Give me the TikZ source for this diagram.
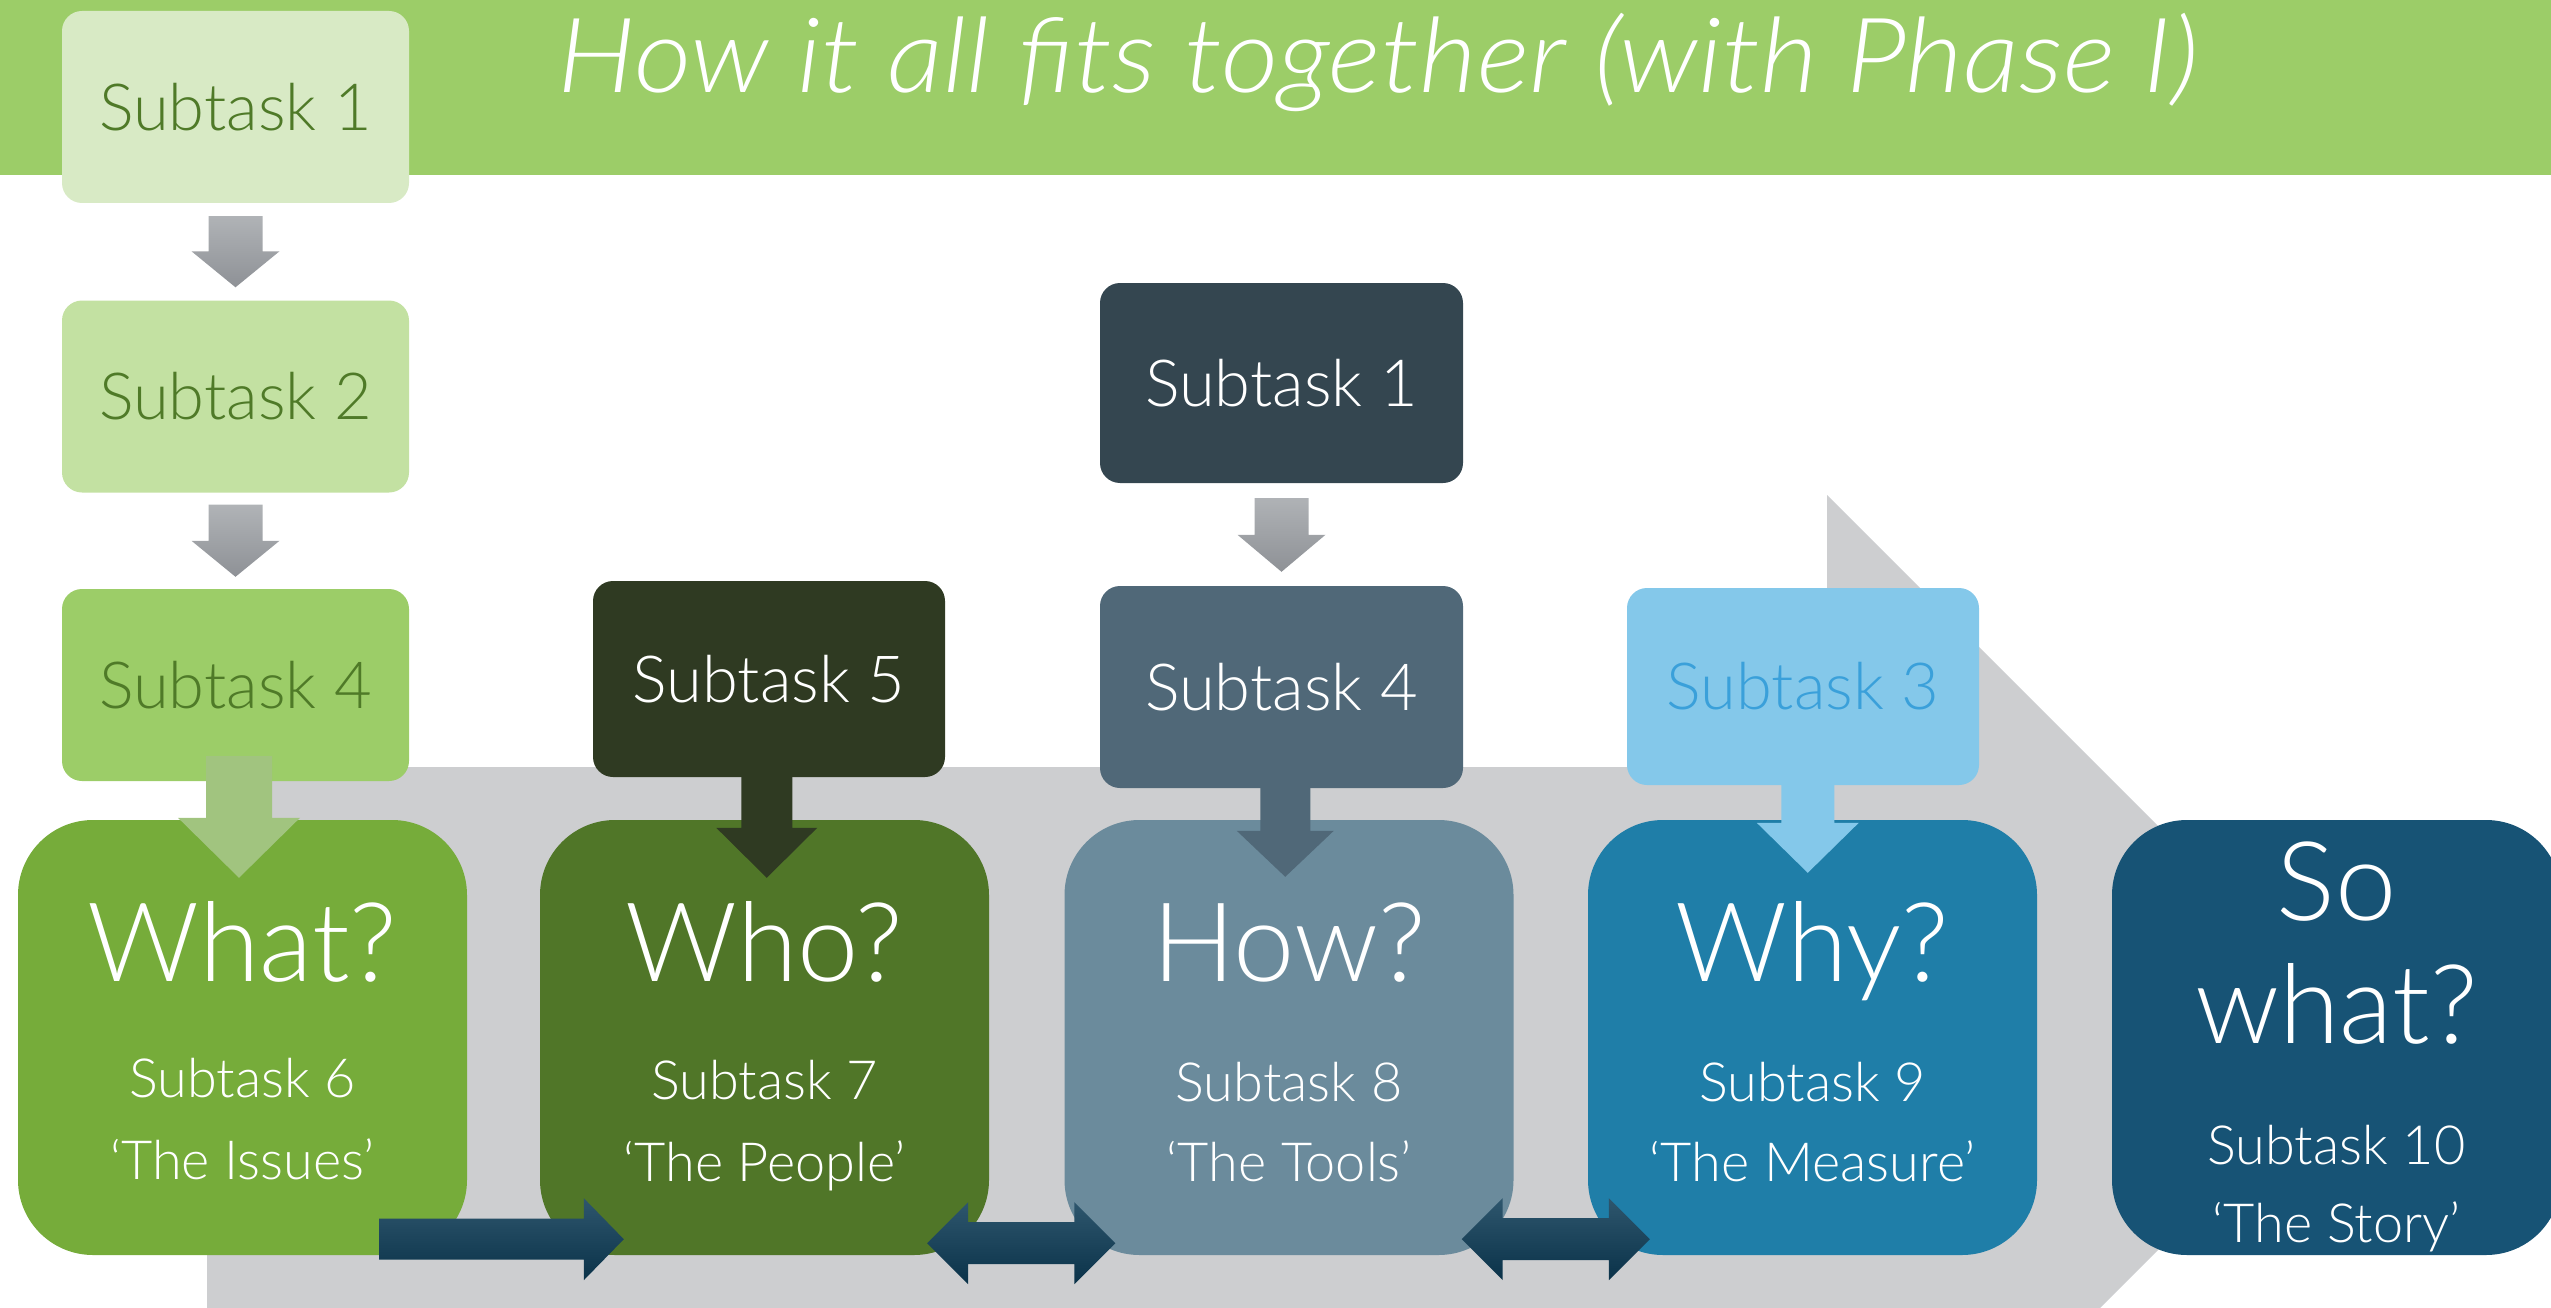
\documentclass[tikz,border=0pt]{standalone}
\usepackage{fontspec}
\IfFontExistsTF{Lato Light}{%
  \setmainfont{Lato Light}[ItalicFont={Lato Light Italic}]}{%
  \setmainfont{Liberation Sans}}
\usetikzlibrary{calc}

\definecolor{headgreen}{HTML}{9CCD68}
\definecolor{pale}{HTML}{D8EAC5}
\definecolor{light}{HTML}{C3E1A2}
\definecolor{leaf}{HTML}{4F7A28}
\definecolor{whatgreen}{HTML}{76AC3A}
\definecolor{whogreen}{HTML}{507628}
\definecolor{olive}{HTML}{2F3A22}
\definecolor{slatedark}{HTML}{344650}
\definecolor{slate}{HTML}{506878}
\definecolor{howblue}{HTML}{6B8B9C}
\definecolor{skyblue}{HTML}{84C8EA}
\definecolor{skytext}{HTML}{3AA0DA}
\definecolor{whyblue}{HTML}{1F7EA8}
\definecolor{navy}{HTML}{175375}
\definecolor{backgray}{HTML}{CDCED0}
\definecolor{graytop}{HTML}{B6B9BC}
\definecolor{graybot}{HTML}{8E9196}
\definecolor{inktop}{HTML}{2E566D}
\definecolor{inkbot}{HTML}{0A3249}
\definecolor{fadegreen}{HTML}{A1C47F}

\tikzset{
  topbox/.style={rectangle, rounded corners=20pt, minimum width=347pt,
    minimum height=192pt, inner sep=0pt, font=\fontsize{65}{78}\selectfont},
  bigbox/.style={rectangle, rounded corners=75pt, minimum width=449pt,
    minimum height=435pt, inner sep=0pt},
  bigword/.style={anchor=base, inner sep=0pt, text=white, font=\fontsize{110}{130}\selectfont},
  smallword/.style={anchor=base, inner sep=0pt, text=white, font=\fontsize{54}{65}\selectfont},
  % fat arrow downwards: shaft half width, head half width, head length, into source, into target
  fat down/.style n args={5}{to path={
    let \p1=(\tikztostart), \p2=(\tikztotarget), \p3=($(\p1)!.5!(\p2)$) in
    ({\x3-#1},{\y1+(#4)}) -- ({\x3+#1},{\y1+(#4)}) -- ({\x3+#1},{\y2-(#5)+#3})
    -- ({\x3+#2},{\y2-(#5)+#3}) -- ({\x3},{\y2-(#5)}) -- ({\x3-#2},{\y2-(#5)+#3})
    -- ({\x3-#1},{\y2-(#5)+#3}) -- cycle}},
  fat right/.style n args={5}{to path={
    let \p1=(\tikztostart), \p2=(\tikztotarget) in
    ({\x1-(#4)},{\y1-#1}) -- ({\x2+(#5)-#3},{\y1-#1}) -- ({\x2+(#5)-#3},{\y1-#2})
    -- ({\x2+(#5)},{\y1}) -- ({\x2+(#5)-#3},{\y1+#2}) -- ({\x2+(#5)-#3},{\y1+#1})
    -- ({\x1-(#4)},{\y1+#1}) -- cycle}},
  fat both/.style n args={5}{to path={
    let \p1=(\tikztostart), \p2=(\tikztotarget) in
    ({\x1-(#4)},{\y1}) -- ({\x1-(#4)+#3},{\y1+#2}) -- ({\x1-(#4)+#3},{\y1+#1})
    -- ({\x2+(#5)-#3},{\y1+#1}) -- ({\x2+(#5)-#3},{\y1+#2}) -- ({\x2+(#5)},{\y1})
    -- ({\x2+(#5)-#3},{\y1-#2}) -- ({\x2+(#5)-#3},{\y1-#1}) -- ({\x1-(#4)+#3},{\y1-#1})
    -- ({\x1-(#4)+#3},{\y1-#2}) -- cycle}},
}

\begin{document}
\begin{tikzpicture}[x=1pt, y=-1pt]
  \useasboundingbox (0,0) rectangle (2551,1308);
  \clip (0,0) rectangle (2551,1308);

  % title band
  \fill[headgreen] (0,0) rectangle (2551,175);
  \node[anchor=base, inner sep=0pt, xscale=1.075, text=white,
    font=\fontsize{104}{125}\selectfont\itshape]
    (title) at (1378,93) {How it all fits together (with Phase I)};

  % big grey arrow behind
  \fill[backgray] (207,767) -- (1827,767) -- (1827,495) -- (2370,1038)
    -- (1827,1581) -- (1827,1309) -- (207,1309) -- cycle;

  % questions
  \node[bigbox, fill=whatgreen] (what) at (242.5,1037.5) {};
  \node[bigbox, fill=whogreen] (who) at (764.5,1037.5) {};
  \node[bigbox, fill=howblue] (how) at (1289,1037.5) {};
  \node[bigbox, fill=whyblue] (why) at (1812.5,1037.5) {};
  \node[bigbox, fill=navy] (sowhat) at (2336.5,1037.5) {};

  \node[bigword] (what-w) at ($(what.north)+(0,162)$) {What?};
  \node[smallword] (what-s) at ($(what.north)+(0,278)$) {Subtask 6};
  \node[smallword] (what-q) at ($(what.north)+(0,360)$) {‘The Issues’};
  \node[bigword] (who-w) at ($(who.north)+(0,162)$) {Who?};
  \node[smallword] (who-s) at ($(who.north)+(0,280)$) {Subtask 7};
  \node[smallword] (who-q) at ($(who.north)+(0,362)$) {‘The People’};
  \node[bigword] (how-w) at ($(how.north)+(0,162)$) {How?};
  \node[smallword] (how-s) at ($(how.north)+(0,282)$) {Subtask 8};
  \node[smallword] (how-q) at ($(how.north)+(0,362)$) {‘The Tools’};
  \node[bigword] (why-w) at ($(why.north)+(0,162)$) {Why?};
  \node[smallword] (why-s) at ($(why.north)+(0,282)$) {Subtask 9};
  \node[smallword] (why-q) at ($(why.north)+(0,362)$) {‘The Measure’};
  \node[bigword] (sowhat-a) at ($(sowhat.north)+(0,101)$) {So};
  \node[bigword] (sowhat-b) at ($(sowhat.north)+(0,224)$) {what?};
  \node[smallword] (sowhat-s) at ($(sowhat.north)+(0,345)$) {Subtask 10};
  \node[smallword] (sowhat-q) at ($(sowhat.north)+(0,423)$) {‘The Story’};

  % subtasks
  \node[topbox, fill=pale, text=leaf] (s1) at (235.5,107) {Subtask 1};
  \node[topbox, fill=light, text=leaf] (s2) at (235.5,396.5) {Subtask 2};
  \node[topbox, fill=headgreen, text=leaf] (s4) at (235.5,685) {Subtask 4};
  \node[topbox, fill=olive, text=white, minimum width=352pt, minimum height=196pt]
    (s5) at (769,679) {Subtask 5};
  \node[topbox, fill=slatedark, text=white, minimum width=363pt, minimum height=200pt]
    (t1) at (1281.5,383) {Subtask 1};
  \node[topbox, fill=slate, text=white, minimum width=363pt, minimum height=202pt]
    (t4) at (1281.5,687) {Subtask 4};
  \node[topbox, fill=skyblue, text=skytext, minimum width=352pt, minimum height=197pt]
    (s3) at (1803,686.5) {Subtask 3};

  % arrows
  \shade[top color=graytop, bottom color=graybot, fat down={27}{44}{36}{-13}{-13}] (s1.south) to (s2.north);
  \shade[top color=graytop, bottom color=graybot, fat down={27}{44}{36}{-12}{-12}] (s2.south) to (s4.north);
  \shade[top color=graytop, bottom color=graybot, fat down={27}{44}{37}{-15}{-14}] (t1.south) to (t4.north);
  \fill[fadegreen, fat down={33}{61}{60}{25}{58}] (s4.south) to (what.north);
  \fill[olive, fat down={25.5}{50.5}{50}{10}{58}] (s5.south) to (who.north);
  \fill[slate, fat down={25}{48.5}{46}{5}{57}] (t4.south) to (how.north);
  \fill[skyblue, fat down={26.5}{51}{50}{5}{53}] (s3.south) to (why.north);

  \shade[top color=inktop, bottom color=inkbot, fat right={20.5}{41}{40}{88}{84}]
    ($(what.south east)+(0,-16)$) to ($(who.south west)+(0,-16)$);
  \shade[top color=inktop, bottom color=inkbot, fat both={21}{41}{41}{62}{51}]
    ($(who.south east)+(0,-12)$) to ($(how.south west)+(0,-12)$);
  \shade[top color=inktop, bottom color=inkbot, fat both={21}{41}{41}{52}{62}]
    ($(how.south east)+(0,-16)$) to ($(why.south west)+(0,-16)$);
\end{tikzpicture}
\end{document}
